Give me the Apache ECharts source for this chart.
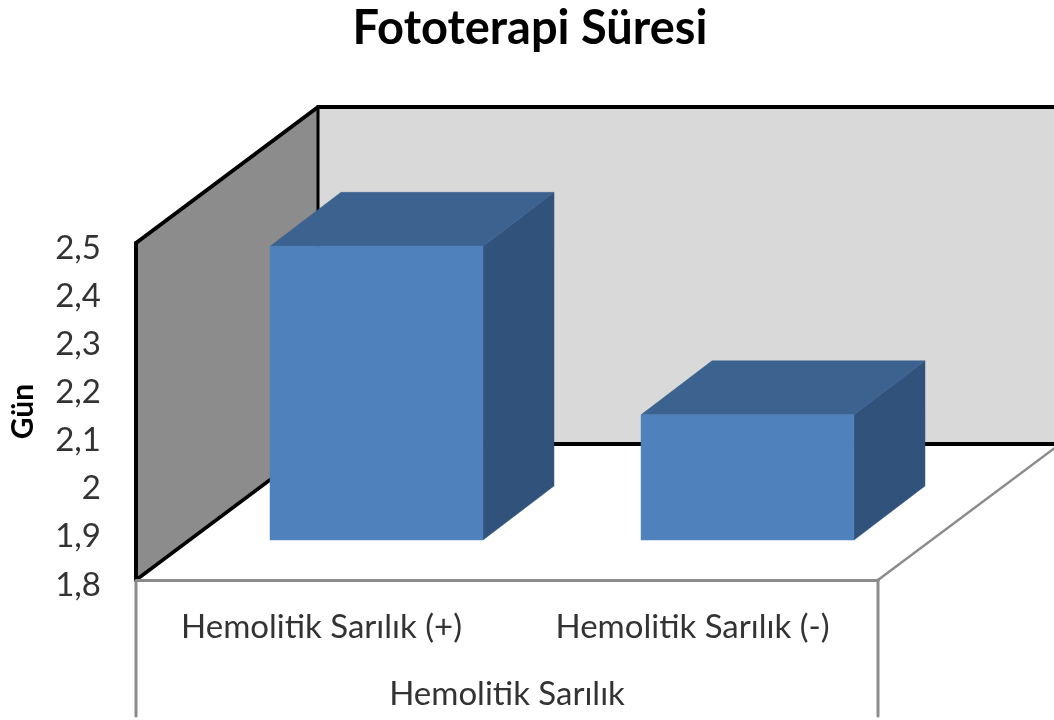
<!DOCTYPE html>
<html>
<head>
<meta charset="utf-8">
<style>html,body{margin:0;padding:0;background:#fff;overflow:hidden}#c{width:1054px;height:720px}</style>
<script src="https://cdn.jsdelivr.net/npm/echarts@6/dist/echarts.min.js"></script>
</head>
<body>
<div id="c"></div>
<script>
const titleText = 'Fototerapi Süresi';
const yAxisName = 'Gün';
const xAxisName = 'Hemolitik Sarılık';
const categories = ['Hemolitik Sarılık (+)', 'Hemolitik Sarılık (-)'];
const values = [2.41, 2.06];
const yMin = 1.8, yMax = 2.5, yStep = 0.1;

const FONT = 'Lato, "Open Sans", sans-serif';
const WALL_DEPTH = [182, -136];
const BAR_NEAR = [55, -40];
const BAR_DEPTH = [71, -54];
const BAR_RATIO = 0.574;

const chart = echarts.init(document.getElementById('c'), null, {renderer: 'canvas'});

function poly(points, fill) {
  return {type: 'polygon', shape: {points}, style: {fill, stroke: fill, lineWidth: 0.5}};
}
function seg(a, b, stroke, lineWidth) {
  return {type: 'line', shape: {x1: a[0], y1: a[1], x2: b[0], y2: b[1]}, style: {stroke, lineWidth, lineCap: 'round'}};
}
const add = (p, d) => [p[0] + d[0], p[1] + d[1]];

function renderWalls(params, api) {
  const lb = api.coord([0, yMin]);
  const band = api.size([1, 0])[0];
  const bl = [lb[0] - band / 2, lb[1]];
  const br = [bl[0] + band * categories.length, lb[1]];
  const tl = [bl[0], api.coord([0, yMax])[1]];
  const bbl = add(bl, WALL_DEPTH), btl = add(tl, WALL_DEPTH);
  const bbr = add(br, WALL_DEPTH), btr = add([br[0], tl[1]], WALL_DEPTH);
  const drop = 136;
  return {type: 'group', children: [
    poly([bbl, btl, btr, bbr], '#D9D9D9'),
    poly([bl, tl, btl, bbl], '#8C8C8C'),
    seg(bl, bbl, '#000', 3.5),
    seg(tl, btl, '#000', 4),
    seg(bbl, btl, '#000', 3),
    seg(btl, btr, '#000', 4),
    seg(bbl, bbr, '#000', 4),
    seg(br, bbr, '#8C8C8C', 2.5),
    seg(bl, [bl[0], bl[1] + drop], '#8C8C8C', 3),
    seg(br, [br[0], br[1] + drop], '#8C8C8C', 3)
  ]};
}

function renderBar(params, api) {
  const top = api.coord([api.value(0), api.value(1)]);
  const base = api.coord([api.value(0), yMin]);
  const w = api.size([1, 0])[0] * BAR_RATIO;
  const x0 = top[0] - w / 2 + BAR_NEAR[0], x1 = x0 + w;
  const yT = top[1] + BAR_NEAR[1], yB = base[1] + BAR_NEAR[1];
  const [dx, dy] = BAR_DEPTH;
  return {type: 'group', children: [
    poly([[x1, yT], [x1 + dx, yT + dy], [x1 + dx, yB + dy], [x1, yB]], '#31527B'),
    poly([[x0, yT], [x1, yT], [x1 + dx, yT + dy], [x0 + dx, yT + dy]], '#3C6290'),
    poly([[x0, yT], [x1, yT], [x1, yB], [x0, yB]], '#4F81BD')
  ]};
}

chart.setOption({
  animation: false,
  backgroundColor: '#fff',
  title: {
    text: titleText, left: 525, top: 0, textAlign: 'center',
    textStyle: {fontFamily: FONT, fontSize: 47, fontWeight: 'bold', color: '#000'}
  },
  grid: {left: 136, right: 176, top: 243, bottom: 140, outerBoundsMode: 'none'},
  xAxis: {
    type: 'category', data: categories, z: 5,
    name: xAxisName, nameLocation: 'middle', nameGap: 98,
    nameTextStyle: {fontFamily: FONT, fontSize: 33, color: '#333'},
    axisLine: {lineStyle: {color: '#8C8C8C', width: 3}},
    axisTick: {show: false},
    axisLabel: {fontFamily: FONT, fontSize: 33, color: '#333', margin: 31, interval: 0}
  },
  yAxis: {
    type: 'value', min: yMin, max: yMax, interval: yStep, z: 5,
    name: yAxisName, nameLocation: 'middle', nameGap: 98, nameRotate: 90,
    nameTextStyle: {fontFamily: FONT, fontSize: 30, fontWeight: 'bold', color: '#000'},
    axisLine: {show: true, lineStyle: {color: '#000', width: 4}},
    axisTick: {show: false},
    splitLine: {show: false},
    axisLabel: {
      fontFamily: FONT, fontSize: 33, color: '#333', margin: 35,
      formatter: v => '{t|' + String(Math.round(v * 10) / 10).replace('.', ',') + '}',
      rich: {t: {fontFamily: FONT, fontSize: 33, color: '#333', padding: [10, 0, 0, 0]}}
    }
  },
  series: [
    {type: 'custom', coordinateSystem: 'cartesian2d', renderItem: renderWalls, data: [[0, yMin]], silent: true, z: 1, clip: false},
    {type: 'custom', coordinateSystem: 'cartesian2d', renderItem: renderBar, data: values.map((v, i) => [i, v]), encode: {x: 0, y: 1}, z: 2, clip: false}
  ]
});
</script>
</body>
</html>
